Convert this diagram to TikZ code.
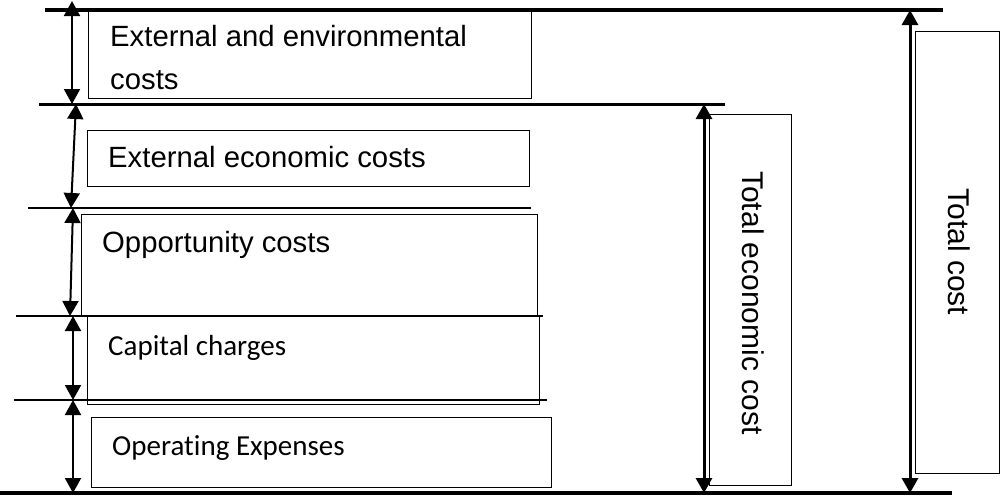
\documentclass[tikz,border=0pt]{standalone}
\usepackage{fontspec}
\setmainfont{Liberation Sans}
\newfontfamily\calib[Ligatures=NoCommon]{Carlito}
\usetikzlibrary{arrows.meta}
\begin{document}
\begin{tikzpicture}[x=1pt,y=-1pt,
  thickrule/.style={line width=4.5pt},
  midrule/.style={line width=3pt},
  thinrule/.style={line width=1.2pt},
  costbox/.style={draw, line width=1.4pt, anchor=north west, inner sep=0pt},
  dimarrow/.style={line width=2pt, {Triangle[length=15pt,width=16pt]}-{Triangle[length=15pt,width=16pt]}},
  lbl/.style={anchor=base west, inner sep=0pt, font=\fontsize{29.3}{35}\selectfont},
  clbl/.style={anchor=base west, inner sep=0pt, font=\calib\fontsize{29}{35}\selectfont},
  vlbl/.style={anchor=base, rotate=-90, inner sep=0pt, font=\fontsize{30}{35}\selectfont}]
\useasboundingbox (0,0) rectangle (1001,496);
\fill[white] (0,0) rectangle (1001,496);

% horizontal rules
\coordinate (r1a) at (45,10);  \coordinate (r1b) at (943,10);
\coordinate (r2a) at (39,104); \coordinate (r2b) at (725,104);
\coordinate (r3a) at (28,208); \coordinate (r3b) at (531,208);
\coordinate (r4a) at (16,316); \coordinate (r4b) at (543,316);
\coordinate (r5a) at (14,400); \coordinate (r5b) at (547,400);
\coordinate (r6a) at (0,493);  \coordinate (r6b) at (952,493);
\draw[thickrule] (r1a) -- (r1b);
\draw[midrule] (r2a) -- (r2b);
\draw[thinrule] (r3a) -- (r3b);
\draw[thinrule] (r4a) -- (r4b);
\draw[thinrule] (r5a) -- (r5b);
\draw[thickrule] (r6a) -- (r6b);

% boxes
\node[costbox, minimum width=443pt, minimum height=87pt] (b1) at (88,11) {};
\node[costbox, minimum width=442pt, minimum height=56pt] (b2) at (87,130) {};
\node[costbox, minimum width=456pt, minimum height=102pt] (b3) at (81,214) {};
\node[costbox, minimum width=452pt, minimum height=88pt] (b4) at (87,316) {};
\node[costbox, minimum width=460pt, minimum height=70pt] (b5) at (91,417) {};
\node[costbox, minimum width=82pt, minimum height=371pt] (b6) at (709,114) {};
\node[costbox, minimum width=84pt, minimum height=442pt] (b7) at (915,31) {};

% labels
\node[lbl] (t1a) at (110,46) {External and environmental};
\node[lbl] (t1b) at (110,89) {costs};
\node[lbl] (t2) at (108,167) {External economic costs};
\node[lbl] (t3) at (102,252) {Opportunity costs};
\node[clbl] (t4) at (108,355) {Capital charges};
\node[clbl] (t5) at (112,455) {Operat\kern0pt ing Expenses};
\node[vlbl] (t6) at (742,303) {Total economic cost};
\node[vlbl] (t7) at (948,252) {Total cost};

% dimension arrows
\coordinate (a1t) at (72,1);   \coordinate (a1b) at (72,104);
\coordinate (a2t) at (76,104); \coordinate (a2b) at (71,208);
\coordinate (a3t) at (73,208); \coordinate (a3b) at (70,316);
\coordinate (a4t) at (73,316); \coordinate (a4b) at (73,400);
\coordinate (a5t) at (73,400); \coordinate (a5b) at (73,493);
\coordinate (a6t) at (704,104); \coordinate (a6b) at (704,493);
\coordinate (a7t) at (910,10); \coordinate (a7b) at (910,493);
\draw[dimarrow] (a1t) -- (a1b);
\draw[dimarrow] (a2t) -- (a2b);
\draw[dimarrow] (a3t) -- (a3b);
\draw[dimarrow] (a4t) -- (a4b);
\draw[dimarrow] (a5t) -- (a5b);
\draw[dimarrow, line width=3pt] (a6t) -- (a6b);
\draw[dimarrow, line width=3pt] (a7t) -- (a7b);
\end{tikzpicture}
\end{document}
